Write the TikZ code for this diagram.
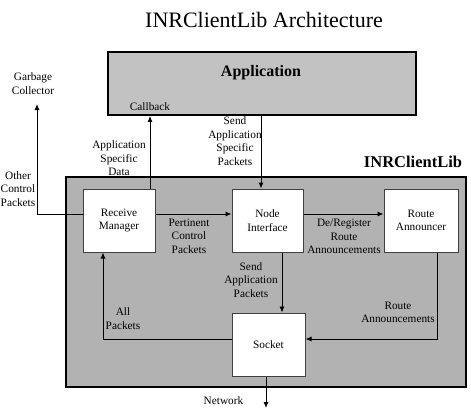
\documentclass[tikz,border=0pt]{standalone}
\usepackage{fontspec}
\setmainfont{Liberation Serif}
\usetikzlibrary{arrows.meta}
\definecolor{libgray}{gray}{0.70}
\definecolor{appgray}{gray}{0.76}
\begin{document}
\begin{tikzpicture}[x=1pt,y=-1pt,
  lbl/.style={align=center,font=\fontsize{11.3}{13.5}\selectfont,inner sep=0pt},
  big/.style={draw=black,line width=1.8pt,inner sep=0pt},
  comp/.style={draw=black!75,line width=1pt,fill=white,align=center,
    font=\fontsize{11.3}{13.5}\selectfont,minimum height=63pt,inner sep=0pt},
  arr/.style={-{Latex[length=6pt,width=5pt]},line width=0.9pt}]
\useasboundingbox[fill=white] (0,0) rectangle (471,408);
% title
\node[font=\fontsize{22}{26}\selectfont,inner sep=0pt] (title) at (264,20) {INRClientLib Architecture};
% application
\node[big,fill=appgray,minimum width=308pt,minimum height=63pt] (app) at (262,83.5) {};
\node[font=\bfseries\fontsize{16}{19}\selectfont,inner sep=0pt] (apptxt) at (261,73) {Application};
\node[lbl] (cbtxt) at (150,107) {Callback};
% library
\node[big,fill=libgray,minimum width=400pt,minimum height=210pt] (lib) at (266,282) {};
\node[font=\bfseries\fontsize{16.5}{19}\selectfont,inner sep=0pt] (libtxt) at (413,162) {INRClientLib};
% components
\node[comp,minimum width=72pt] (rm) at (119,220.5) {Receive\\Manager};
\node[comp,minimum width=71pt] (ni) at (267.5,220.5) {Node\\Interface};
\node[comp,minimum width=74pt] (ra) at (421,220.5) {Route\\Announcer};
\node[comp,minimum width=73pt] (sock) at (268.5,344.5) {Socket};
% free ends
\coordinate (gc) at (37,104);
\coordinate (net) at (266,408);
% connectors
\draw[arr] ([yshift=6.5pt]rm.west) -| (gc);
\draw[arr] ([xshift=31pt]rm.north) -- ([xshift=31pt]rm.north |- app.south);
\draw[arr] ([xshift=-6.5pt]ni.north |- app.south) -- ([xshift=-6.5pt]ni.north);
\draw[arr] ([yshift=6.5pt]rm.east) -- ([yshift=6.5pt]ni.west);
\draw[arr] ([yshift=6.5pt]ni.east) -- ([yshift=6.5pt]ra.west);
\draw[arr] ([xshift=14.5pt]ni.south) -- ([xshift=14.5pt]ni.south |- sock.north);
\draw[arr] ([xshift=16pt]ra.south) |- ([yshift=5.5pt]sock.east);
\draw[arr] ([yshift=5.5pt]sock.west) -| ([xshift=-16pt]rm.south);
\draw[arr] ([xshift=-2.5pt]sock.south) -- ([xshift=-2.5pt]sock.south |- net);
% labels
\node[lbl] (gctxt) at (33,83.5) {Garbage\\Collector};
\node[lbl] (ocptxt) at (18,189) {Other\\Control\\Packets};
\node[lbl] (asdtxt) at (119,158.5) {Application\\Specific\\Data};
\node[lbl] (sasptxt) at (235,141) {Send\\Application\\Specific\\Packets};
\node[lbl] (pcptxt) at (189,236) {Pertinent\\Control\\Packets};
\node[lbl] (drtxt) at (344,236.5) {De/Register\\Route\\Announcements};
\node[lbl] (saptxt) at (251,280) {Send\\Application\\Packets};
\node[lbl] (ratxt) at (398,312.5) {Route\\Announcements};
\node[lbl] (aptxt) at (123,318.5) {All\\Packets};
\node[lbl] (nettxt) at (223.5,400.5) {Network};
\end{tikzpicture}
\end{document}
